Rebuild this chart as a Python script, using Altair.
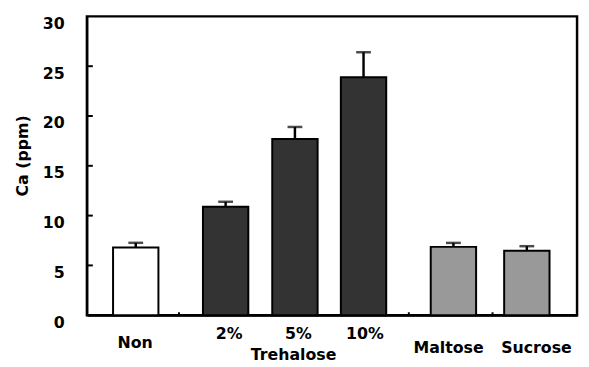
import altair as alt
import pandas as pd

categories = ["Non", "2%", "5%", "10%", "Maltose", "Sucrose"]
slots = [0.64, 1.95, 2.96, 3.96, 5.27, 6.34]
values = [6.8, 10.9, 17.7, 23.9, 6.86, 6.47]
err_top = [7.27, 11.39, 18.9, 26.4, 7.26, 6.93]
groups = ["none", "tre", "tre", "tre", "other", "other"]

label_text = ["Non", "2%", "5%", "10%", "Trehalose", "Maltose", "Sucrose"]
label_slot = [0.63, 2.0, 3.01, 3.98, 2.94, 5.2, 6.48]
label_level = [-2.77, -1.93, -1.93, -1.93, -4.0, -3.27, -3.27]

y_ticks = [5, 10, 15, 20, 25]
x_minor = [1.27, 4.62, 5.84]

df = pd.DataFrame({"cat": categories, "slot": slots, "value": values,
                   "err": err_top, "group": groups})
lab = pd.DataFrame({"text": label_text, "slot": label_slot, "level": label_level})
ticks = pd.DataFrame({"y": y_ticks})
minor = pd.DataFrame({"slot": x_minor})

FONT = "DejaVu Sans"
xscale = alt.Scale(domain=[0, 7], nice=False, zero=False)
yscale = alt.Scale(domain=[0, 30], nice=False)

base = alt.Chart(df)

bars = base.mark_bar(size=46, stroke="black", strokeWidth=2).encode(
    x=alt.X("slot:Q", scale=xscale,
            axis=alt.Axis(labels=False, ticks=False, title=None, grid=False,
                          domainColor="black", domainWidth=2)),
    y=alt.Y("value:Q", scale=yscale,
            axis=alt.Axis(values=[0, 5, 10, 15, 20, 25, 30], ticks=False, grid=False,
                          domainColor="black", domainWidth=2,
                          labelFont=FONT, labelFontWeight="bold", labelFontSize=16,
                          labelColor="black", labelPadding=23, labelOffset=7,
                          title="Ca (ppm)", titleFont=FONT, titleFontWeight="bold",
                          titleFontSize=16, titleColor="black",
                          titleX=-65, titleY=141, titleAngle=-90,
                          titleAlign="center", titleBaseline="middle")),
    fill=alt.Color("group:N", scale=alt.Scale(domain=["none", "tre", "other"],
                                              range=["#ffffff", "#333333", "#999999"]),
                   legend=None),
)

stem = base.mark_rule(color="black", strokeWidth=2.5).encode(
    x="slot:Q", y="value:Q", y2="err:Q")
cap = base.mark_tick(color="black", thickness=2.5, size=15, orient="horizontal").encode(
    x="slot:Q", y="err:Q")

ytick = alt.Chart(ticks).mark_rule(color="black", strokeWidth=2).encode(
    x=alt.value(0), x2=alt.value(6), y="y:Q")
xminor = alt.Chart(minor).mark_rule(color="black", strokeWidth=2).encode(
    x="slot:Q", y=alt.value(303), y2=alt.value(300))

labels = alt.Chart(lab).mark_text(font=FONT, fontWeight="bold", fontSize=16,
                                  color="black", baseline="middle").encode(
    x="slot:Q", y="level:Q", text="text:N")

chart = alt.layer(bars, stem, cap, ytick, xminor, labels).properties(
    width=497, height=303,
    padding={"left": 80, "top": 6, "right": 4, "bottom": 50},
    autosize=alt.AutoSizeParams(type="none"),
    background="white",
).configure_view(stroke="black", strokeWidth=2.5)

chart.save("out.html", embed_options={"renderer": "svg", "actions": False})
